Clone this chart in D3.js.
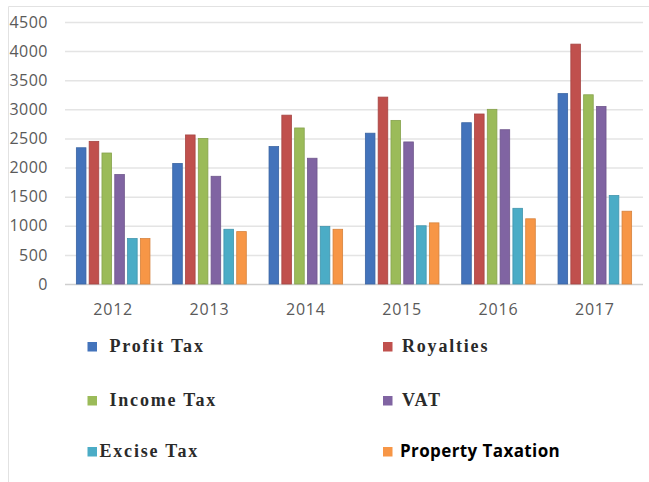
<!DOCTYPE html>
<html>
<head>
<meta charset="utf-8">
<script src="https://cdn.jsdelivr.net/npm/d3@7"></script>
<style>
  body { margin: 0; background: #fff; }
  svg { display: block; }
</style>
</head>
<body>
<svg id="chart" width="649" height="482"></svg>
<script>
var years = ["2012", "2013", "2014", "2015", "2016", "2017"];
var series = ["Profit Tax", "Royalties", "Income Tax", "VAT", "Excise Tax", "Property Taxation"];
var colors = ["#4373bb", "#c0504d", "#9bbb59", "#8064a2", "#4bacc6", "#f79646"];
var yTicks = [0, 500, 1000, 1500, 2000, 2500, 3000, 3500, 4000, 4500];

var profitTax = [2340, 2070, 2360, 2590, 2770, 3270];
var royalties = [2450, 2560, 2900, 3210, 2920, 4120];
var incomeTax = [2250, 2500, 2680, 2810, 3000, 3250];
var vat = [1880, 1850, 2160, 2440, 2650, 3050];
var exciseTax = [780, 940, 990, 1000, 1300, 1520];
var propertyTax = [780, 900, 940, 1050, 1120, 1250];

var values = [profitTax, royalties, incomeTax, vat, exciseTax, propertyTax];

var svg = d3.select("#chart");

// frame of the copied picture
svg.append("line").attr("x1", 8.5).attr("x2", 649).attr("y1", 6.5).attr("y2", 6.5)
  .attr("stroke", "#e2e2e2");
svg.append("line").attr("x1", 8.5).attr("x2", 8.5).attr("y1", 6.5).attr("y2", 482)
  .attr("stroke", "#e2e2e2");

var x0 = d3.scaleBand().domain(years).range([65, 643]).paddingInner(0.236).paddingOuter(0.118);
var x1 = d3.scaleBand().domain(d3.range(series.length)).range([0, x0.bandwidth()]).paddingInner(0.25);
var y = d3.scaleLinear().domain([0, 4500]).range([284, 22]);

var yAxis = svg.append("g").attr("transform", "translate(65,0)")
  .call(d3.axisLeft(y).tickValues(yTicks).tickSize(-578).tickPadding(17).tickFormat(d3.format("d")));
yAxis.select(".domain").remove();
yAxis.selectAll(".tick line").attr("stroke", function (d) { return d == 0 ? "#cfcfcf" : "#e4e4e4"; })
  .attr("stroke-width", 1.5);
yAxis.selectAll(".tick text").attr("fill", "#5a5a5a")
  .style("font-family", "'Open Sans', sans-serif").style("font-size", "16px")
  .style("letter-spacing", "0.5px");

var xAxis = svg.append("g").attr("transform", "translate(0,284)")
  .call(d3.axisBottom(x0).tickSize(0).tickPadding(20));
xAxis.select(".domain").remove();
xAxis.selectAll(".tick text").attr("fill", "#5a5a5a")
  .style("font-family", "'Open Sans', sans-serif").style("font-size", "16px")
  .style("letter-spacing", "0.8px");

var groups = svg.append("g").selectAll("g").data(years).join("g")
  .attr("transform", function (d) { return "translate(" + x0(d) + ",0)"; });

groups.selectAll("rect").data(function (d, i) {
    return values.map(function (v, s) { return { s: s, v: v[i] }; });
  }).join("rect")
  .attr("x", function (d) { return x1(d.s); })
  .attr("y", function (d) { return y(d.v); })
  .attr("width", x1.bandwidth())
  .attr("height", function (d) { return y(0) - y(d.v); })
  .attr("fill", function (d) { return colors[d.s]; })
  .attr("stroke", function (d) { return d3.color(colors[d.s]).darker(0.4); })
  .attr("stroke-width", 0.8);

// legend, two columns of three rows
var legendX = [87.5, 383];
var legendY = [352, 406, 457];
var legend = svg.append("g").selectAll("g").data(series).join("g")
  .attr("transform", function (d, i) {
    return "translate(" + legendX[i % 2] + "," + legendY[Math.floor(i / 2)] + ")";
  });
legend.append("rect").attr("x", 0).attr("y", -10).attr("width", 9.5).attr("height", 9.5)
  .attr("fill", function (d, i) { return colors[i]; });
legend.append("text")
  .attr("x", function (d, i) { return i == 4 ? 12 : (i % 2 ? 19 : 22); })
  .attr("y", 0)
  .text(function (d) { return d; })
  .each(function (d, i) {
    var t = d3.select(this);
    if (i == 5) {
      t.attr("x", 17).style("font-family", "'Open Sans', sans-serif").style("font-weight", "700")
        .style("font-size", "17px").style("letter-spacing", "0.4px").attr("fill", "#000");
    } else {
      t.style("font-family", "'Liberation Serif', serif").style("font-weight", "700")
        .style("font-size", "18px").style("letter-spacing", "1.8px").attr("fill", "#2a2a2a");
    }
  });
</script>
</body>
</html>
